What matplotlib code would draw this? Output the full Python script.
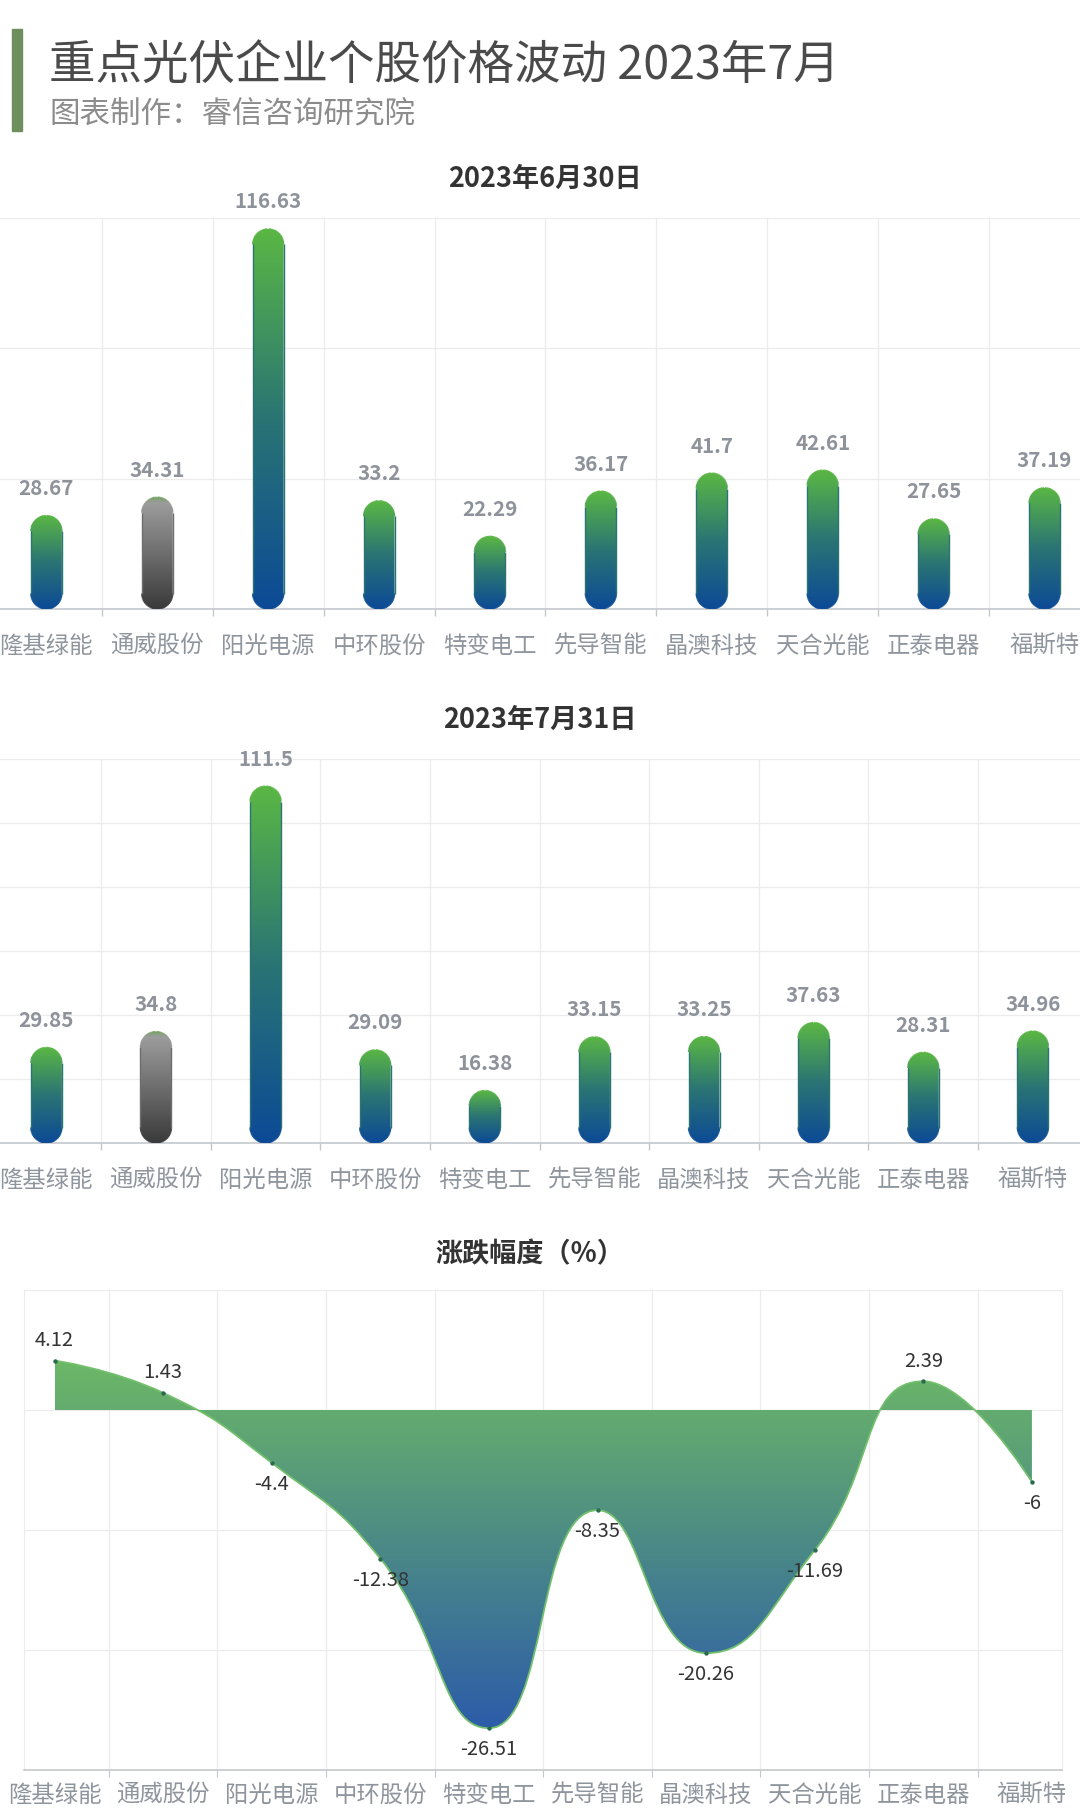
import numpy as np
import matplotlib.pyplot as plt
from matplotlib.path import Path
from matplotlib.patches import PathPatch, Rectangle
from matplotlib.collections import LineCollection
from matplotlib.colors import LinearSegmentedColormap

plt.rcParams['font.family'] = ['Noto Sans CJK SC', 'DejaVu Sans']

# ---- data ----
companies = ['隆基绿能', '通威股份', '阳光电源', '中环股份', '特变电工',
             '先导智能', '晶澳科技', '天合光能', '正泰电器', '福斯特']
price_jun30 = [28.67, 34.31, 116.63, 33.2, 22.29, 36.17, 41.7, 42.61, 27.65, 37.19]
price_jul31 = [29.85, 34.8, 111.5, 29.09, 16.38, 33.15, 33.25, 37.63, 28.31, 34.96]
change_pct = [4.12, 1.43, -4.4, -12.38, -26.51, -8.35, -20.26, -11.69, 2.39, -6]
gray_company = '通威股份'

title = '重点光伏企业个股价格波动 2023年7月'
subtitle = '图表制作：睿信咨询研究院'
title_jun = '2023年6月30日'
title_jul = '2023年7月31日'
title_chg = '涨跌幅度（%）'

W, H = 1080, 1818
fig = plt.figure(figsize=(W / 100, H / 100), dpi=100)

bar_cmap = LinearSegmentedColormap.from_list('bar', ['#0c4a96', '#2a7474', '#5bb744'])
gray_cmap = LinearSegmentedColormap.from_list(
    'gray', [(0, '#3a3a3a'), (0.5, '#6e6e6e'), (0.95, '#9c9c9c'), (1.0, '#78a468')])
area_cmap = LinearSegmentedColormap.from_list('area', ['#2d5ca9', '#4b8a86', '#6cb866'])

LABEL_GREY = '#8f959d'
GRID = '#ececec'
grad = np.linspace(0, 1, 256).reshape(-1, 1)


def add_ax(left, top, right, bottom):
    return fig.add_axes([left / W, 1 - bottom / H, (right - left) / W, (bottom - top) / H])


def px_scale(ax):
    pos = ax.get_position()
    x0, x1 = ax.get_xlim()
    y0, y1 = ax.get_ylim()
    return pos.width * W / (x1 - x0), pos.height * H / (y1 - y0)


def stadium(xc, v, hw, ry):
    t = np.linspace(0, np.pi, 40)
    top = v - ry
    xs = np.concatenate([xc + hw * np.cos(t), xc + hw * np.cos(t + np.pi)])
    ys = np.concatenate([top + ry * np.sin(t), ry + ry * np.sin(t + np.pi)])
    return xs, ys


def bar_chart(ax, values, xlim, ystep):
    ax.set_xlim(*xlim)
    ax.set_ylim(0, 120)
    sx, sy = px_scale(ax)
    r = 15.5
    hw, ry = r / sx, r / sy
    for i, (name, v) in enumerate(zip(companies, values)):
        cm = gray_cmap if name == gray_company else bar_cmap
        bx, by = stadium(i, v, hw, ry)
        verts = list(zip(bx, by)) + [(bx[0], by[0])]
        patch = PathPatch(Path(verts, closed=True), facecolor='none', edgecolor='none')
        ax.add_patch(patch)
        im = ax.imshow(grad, extent=[i - hw, i + hw, 0, v], origin='lower', cmap=cm,
                       aspect='auto', zorder=3, interpolation='bilinear')
        im.set_clip_path(patch)
        # soft outline in the local gradient colour
        pts = np.array(verts)
        segs = np.stack([pts[:-1], pts[1:]], axis=1)
        mid = (pts[:-1, 1] + pts[1:, 1]) / 2 / v
        ax.add_collection(LineCollection(segs, colors=cm(mid), linewidths=1.0, zorder=3))
        ax.annotate(f'{v:g}', (i, v), xytext=(0, 19.5), textcoords='offset points',
                    ha='center', va='center', fontsize=14.8, fontweight='bold',
                    color='#8e939b', zorder=4)
        ax.annotate(name, (i, 0), xytext=(0, -27), textcoords='offset points',
                    ha='center', va='center', fontsize=16.8, color=LABEL_GREY,
                    annotation_clip=False)
    ax.set_xlim(*xlim)
    ax.set_ylim(0, 120)
    ax.set_xticks(np.arange(0.5, 9, 1))
    ax.set_xticklabels([])
    ax.set_yticks(np.arange(0, 121, ystep))
    ax.set_yticklabels([])
    ax.tick_params(axis='y', length=0)
    ax.tick_params(axis='x', length=5, color='#c4c8cc', width=1)
    ax.grid(True, color=GRID, linewidth=0.9, zorder=0)
    ax.set_axisbelow(True)
    for s in ['top', 'left', 'right']:
        ax.spines[s].set_visible(False)
    ax.spines['bottom'].set_color('#c4c8cc')
    ax.spines['bottom'].set_linewidth(1.2)
    ax.set_facecolor('none')


def smooth_curve(px, py, smooth=0.5):
    # echarts style smoothed line in pixel space
    n = len(px)
    verts = [(px[0], py[0])]
    codes = [Path.MOVETO]
    cpx0, cpy0 = px[0], py[0]
    for i in range(1, n):
        x, y = px[i], py[i]
        prevX, prevY = px[i - 1], py[i - 1]
        if i == n - 1:
            cpx1, cpy1 = x, y
            ncx, ncy = x, y
        else:
            nextX, nextY = px[i + 1], py[i + 1]
            vx, vy = nextX - prevX, nextY - prevY
            lp = np.hypot(x - prevX, y - prevY)
            ln = np.hypot(nextX - x, nextY - y)
            ratio = ln / (ln + lp)
            ncx = x + vx * smooth * ratio
            ncy = y + vy * smooth * ratio
            ncx = max(min(ncx, max(nextX, x)), min(nextX, x))
            ncy = max(min(ncy, max(nextY, y)), min(nextY, y))
            vx, vy = ncx - x, ncy - y
            cpx1 = x - vx * lp / ln
            cpy1 = y - vy * lp / ln
            cpx1 = max(min(cpx1, max(prevX, x)), min(prevX, x))
            cpy1 = max(min(cpy1, max(prevY, y)), min(prevY, y))
            vx, vy = x - cpx1, y - cpy1
            ncx = x + vx * ln / lp
            ncy = y + vy * ln / lp
        verts += [(cpx0, cpy0), (cpx1, cpy1), (x, y)]
        codes += [Path.CURVE4] * 3
        cpx0, cpy0 = ncx, ncy
    return verts, codes


# ---- header ----
fig.patches.append(Rectangle((12 / W, 1 - 131 / H), 10 / W, 102 / H,
                             transform=fig.transFigure, color='#6c8f5d'))
fig.text(49 / W, 1 - 66 / H, title, ha='left', va='center', fontsize=33.5,
         fontweight='light', color='#4a4a4a')
fig.text(49 / W, 1 - 114 / H, subtitle, ha='left', va='center', fontsize=22,
         fontweight='light', color='#8c8c8c')

# ---- chart 1 ----
fig.text(545 / W, 1 - 179 / H, title_jun, ha='center', va='center', fontsize=19.5,
         fontweight='bold', color='#333333')
ax1 = add_ax(0, 218, 1080, 609)
bar_chart(ax1, price_jun30, (-0.418, 9.32), 40)

# ---- chart 2 ----
fig.text(540 / W, 1 - 720 / H, title_jul, ha='center', va='center', fontsize=19.5,
         fontweight='bold', color='#333333')
ax2 = add_ax(0, 759, 1080, 1143)
bar_chart(ax2, price_jul31, (-0.423, 9.43), 20)

# ---- chart 3 ----
fig.text(530 / W, 1 - 1254 / H, title_chg, ha='center', va='center', fontsize=19.5,
         fontweight='bold', color='#333333')
ax3 = add_ax(24, 1290, 1062, 1770)
ax3.set_xlim(-0.281, 9.277)
ax3.set_ylim(-30, 10)
xs = np.arange(len(change_pct))
pts = ax3.transData.transform(np.column_stack([xs, change_pct]))
verts, codes = smooth_curve(pts[:, 0], pts[:, 1])
inv = ax3.transData.inverted()
dverts = [tuple(v) for v in inv.transform(np.array(verts))]
line_path = Path(dverts, codes)
area_path = Path(dverts + [(xs[-1], 0), (0, 0), (0, 0)],
                 codes + [Path.LINETO, Path.LINETO, Path.CLOSEPOLY])
patch = PathPatch(area_path, facecolor='none', edgecolor='none')
ax3.add_patch(patch)
im = ax3.imshow(grad, extent=[0, xs[-1], min(change_pct), max(change_pct)],
                origin='lower', cmap=area_cmap, aspect='auto', zorder=2)
im.set_clip_path(patch)
ax3.add_patch(PathPatch(line_path, facecolor='none', edgecolor='#72bf6c',
                        linewidth=1.3, zorder=3))
ax3.scatter(xs, change_pct, s=10, color='#2c6a4f', zorder=4, linewidths=0)
for i, v in enumerate(change_pct):
    off = 14.5 if v > 0 else -15.5
    ax3.annotate(f'{v:g}', (i, v), xytext=(0, off), textcoords='offset points',
                 ha='center', va='center', fontsize=14.5, color='#333333', zorder=5)
    ax3.annotate(companies[i], (i, -30), xytext=(0, -18), textcoords='offset points',
                 ha='center', va='center', fontsize=16.8, color=LABEL_GREY,
                 annotation_clip=False)
ax3.set_xlim(-0.281, 9.277)
ax3.set_ylim(-30, 10)
ax3.set_xticks(np.arange(0.5, 9, 1))
ax3.set_xticklabels([])
ax3.set_yticks([-30, -20, -10, 0, 10])
ax3.set_yticklabels([])
ax3.tick_params(axis='y', length=0)
ax3.tick_params(axis='x', length=5, color='#c4c8cc')
ax3.grid(True, color=GRID, linewidth=0.9, zorder=0)
ax3.set_axisbelow(True)
ax3.spines['top'].set_visible(False)
for s in ['left', 'right']:
    ax3.spines[s].set_color(GRID)
ax3.spines['bottom'].set_color('#c4c8cc')
ax3.spines['bottom'].set_linewidth(1.2)
ax3.set_facecolor('none')

fig.savefig('out.png', dpi=100, facecolor='white')
